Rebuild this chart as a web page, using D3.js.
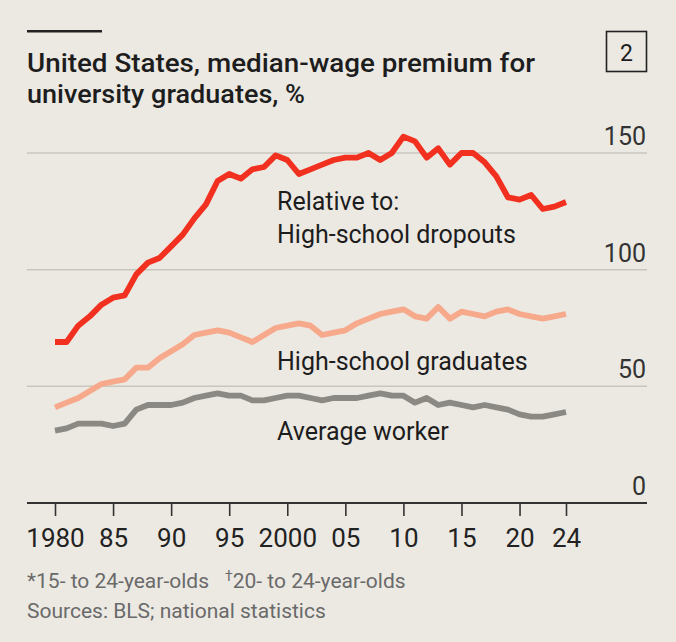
<!DOCTYPE html>
<html>
<head>
<meta charset="utf-8">
<script src="https://cdn.jsdelivr.net/npm/d3@7"></script>
<style>
  html, body { margin: 0; padding: 0; background: #ECE9E3; }
  svg { display: block; font-family: Roboto, "Noto Sans", sans-serif; }
</style>
</head>
<body>
<div id="chart"></div>
<script>
const WIDTH = 676, HEIGHT = 642;

// data, 1980-2024
const years = d3.range(1980, 2025);
const dropouts = [69, 69, 76, 80, 85, 88, 89, 98, 103, 105,
  110, 115, 122, 128, 138, 141, 139, 143, 144, 149,
  147, 141, 143, 145, 147, 148, 148, 150, 147, 150,
  157, 155, 148, 152, 145, 150, 150, 146, 140, 131,
  130, 132, 126, 127, 129];
const graduates = [41, 43, 45, 48, 51, 52, 53, 58, 58, 62,
  65, 68, 72, 73, 74, 73, 71, 69, 72, 75,
  76, 77, 76, 72, 73, 74, 77, 79, 81, 82,
  83, 80, 79, 84, 79, 82, 81, 80, 82, 83,
  81, 80, 79, 80, 81];
const average = [31, 32, 34, 34, 34, 33, 34, 40, 42, 42,
  42, 43, 45, 46, 47, 46, 46, 44, 44, 45,
  46, 46, 45, 44, 45, 45, 45, 46, 47, 46,
  46, 43, 45, 42, 43, 42, 41, 42, 41, 40,
  38, 37, 37, 38, 39];

const tickYears = [1980, 1985, 1990, 1995, 2000, 2005, 2010, 2015, 2020, 2024];
const tickLabels = ["1980", "85", "90", "95", "2000", "05", "10", "15", "20", "24"];
const yTicks = [0, 50, 100, 150];

const series = [
  { name: "average", values: average, color: "#8B8984" },
  { name: "graduates", values: graduates, color: "#F7A98C" },
  { name: "dropouts", values: dropouts, color: "#F2301F" }
];

const svg = d3.select("#chart").append("svg")
  .attr("width", WIDTH).attr("height", HEIGHT);

svg.append("rect").attr("width", WIDTH).attr("height", HEIGHT).attr("fill", "#ECE9E3");

const plotL = 27, plotR = 647;
const x = d3.scaleLinear().domain([1980, 2024]).range([55, 566]);
const y = d3.scaleLinear().domain([0, 150]).range([503, 153]);

// header
svg.append("rect").attr("x", 27).attr("y", 30).attr("width", 75).attr("height", 2.5).attr("fill", "#222");
const title = svg.append("g").attr("font-size", 26).attr("font-weight", 500).attr("fill", "#1d1d1d");
title.append("text").attr("x", 27).attr("y", 72)
  .attr("textLength", 508).attr("lengthAdjust", "spacingAndGlyphs")
  .text("United States, median-wage premium for");
title.append("text").attr("x", 27).attr("y", 103)
  .attr("textLength", 278).attr("lengthAdjust", "spacingAndGlyphs")
  .text("university graduates, %");

svg.append("rect").attr("x", 606.5).attr("y", 31.5).attr("width", 40).attr("height", 40)
  .attr("fill", "none").attr("stroke", "#222").attr("stroke-width", 1.6);
svg.append("text").attr("x", 626.5).attr("y", 61).attr("text-anchor", "middle")
  .attr("font-size", 23).attr("fill", "#1d1d1d").text("2");

// gridlines + right labels
const g = svg.append("g");
g.selectAll(".grid").data(yTicks.filter(d => d > 0)).join("line")
  .attr("x1", plotL).attr("x2", plotR)
  .attr("y1", d => y(d)).attr("y2", d => y(d))
  .attr("stroke", "#C9C6BF").attr("stroke-width", 1.5);
g.selectAll(".ylab").data(yTicks).join("text")
  .attr("x", 646).attr("y", d => y(d) - 8)
  .attr("text-anchor", "end").attr("font-size", 25).attr("fill", "#333")
  .text(d => d);

// x axis
const xAxis = svg.append("g").attr("transform", `translate(0,${y(0)})`)
  .call(d3.axisBottom(x).tickValues(tickYears).tickFormat((d, i) => tickLabels[i])
    .tickSize(13).tickSizeOuter(0));
xAxis.select(".domain").remove();
xAxis.selectAll(".tick line").attr("stroke", "#333").attr("stroke-width", 1.6);
xAxis.selectAll(".tick text").attr("font-family", "Roboto, sans-serif")
  .attr("font-size", 26).attr("fill", "#222").attr("dy", 0).attr("y", 44);
svg.append("line").attr("x1", plotL).attr("x2", plotR).attr("y1", y(0)).attr("y2", y(0))
  .attr("stroke", "#333").attr("stroke-width", 2);

// lines
const line = d3.line().x((d, i) => x(years[i])).y(d => y(d)).curve(d3.curveLinear);
svg.selectAll(".series").data(series).join("path")
  .attr("fill", "none").attr("stroke", d => d.color)
  .attr("stroke-width", 5.8).attr("stroke-linejoin", "round")
  .attr("d", d => line(d.values));

// series labels
const lab = svg.append("g").attr("font-size", 25).attr("fill", "#1d1d1d");
lab.append("text").attr("x", 277).attr("y", 210).text("Relative to:");
lab.append("text").attr("x", 277).attr("y", 243).text("High-school dropouts");
lab.append("text").attr("x", 277).attr("y", 370).text("High-school graduates");
lab.append("text").attr("x", 277).attr("y", 440).text("Average worker");

// footnotes
const foot = svg.append("g").attr("font-size", 21).attr("fill", "#6a6a6a");
const f1 = foot.append("text").attr("x", 27).attr("y", 588);
f1.append("tspan").text("*15- to 24-year-olds");
f1.append("tspan").attr("dx", 16).attr("font-size", 14).attr("dy", -7).text("†");
f1.append("tspan").attr("dy", 7).text("20- to 24-year-olds");
foot.append("text").attr("x", 27).attr("y", 618).text("Sources: BLS; national statistics");
</script>
</body>
</html>
